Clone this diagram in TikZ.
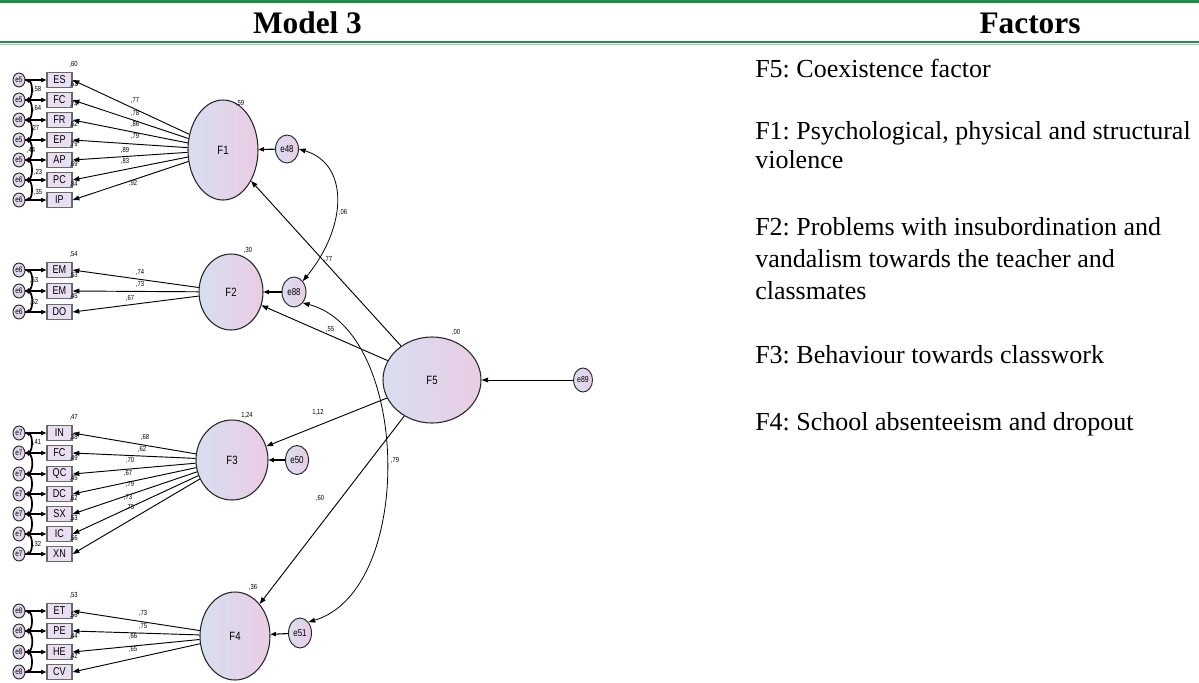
\documentclass[tikz,border=0pt]{standalone}
\usepackage{fontspec}
\setmainfont{Liberation Serif}
\newfontfamily\bodyfont{Liberation Serif}
\newfontfamily\amos{Liberation Sans}[FakeStretch=0.8]
\usetikzlibrary{shapes.geometric,arrows.meta,calc}
\definecolor{hdrgreen}{RGB}{38,140,72}
\definecolor{lgreen}{RGB}{160,205,170}
\definecolor{ellL}{RGB}{216,222,240}
\definecolor{ellR}{RGB}{234,204,228}
\definecolor{boxfill}{RGB}{234,222,242}
\definecolor{boxdraw}{RGB}{105,105,105}
\frenchspacing
\begin{document}
\begin{tikzpicture}[x=0.75pt,y=-0.75pt,
  sz/.style 2 args={minimum width=#1*0.75pt, minimum height=#2*0.75pt},
  lat/.style={ellipse, draw=black!85, line width=0.8pt, left color=ellL, right color=ellR, inner sep=0pt, font=\amos\fontsize{9}{10}\selectfont},
  errc/.style={ellipse, draw=black!85, line width=0.7pt, left color=ellL, right color=ellR, inner sep=0pt, font=\amos\fontsize{7.5}{8}\selectfont},
  serr/.style={ellipse, draw=black!85, line width=0.7pt, left color=ellL, right color=ellR, inner sep=0pt, sz={12}{14}, font=\amos\fontsize{6}{6}\selectfont},
  ind/.style={rectangle, draw=boxdraw, line width=1pt, fill=boxfill, inner sep=0pt, sz={25}{15}, font=\amos\fontsize{8.5}{9}\selectfont},
  arr/.style={-{Triangle[length=5pt,width=3.6pt]}, line width=0.7pt, black},
  sarr/.style={-{Triangle[length=4pt,width=3.2pt]}, line width=0.8pt, black},
  cov/.style={{Triangle[length=3pt,width=2.6pt]}-{Triangle[length=3pt,width=2.6pt]}, line width=1.3pt, black},
  bcov/.style={{Triangle[length=5pt,width=3.6pt]}-{Triangle[length=5pt,width=3.6pt]}, line width=0.6pt, black},
  num/.style={font=\amos\fontsize{5.5}{6}\selectfont, inner sep=0pt},
  txt/.style={font=\bodyfont\fontsize{19.5}{23}\selectfont, anchor=base west, inner sep=0pt},
  hdr/.style={font=\bodyfont\bfseries\fontsize{23.5}{27}\selectfont, anchor=base, inner sep=0pt}
]
\useasboundingbox (0,0) rectangle (1199,682);
\fill[white] (0,0) rectangle (1199,682);

% header rules
\draw[hdrgreen, line width=1.9pt] (0,1.5) -- (1199,1.5);
\draw[hdrgreen, line width=1.9pt] (0,42) -- (1199,42);
\draw[lgreen, line width=0.8pt] (0,44.8) -- (1199,44.8);
\node[hdr] (hm) at (307.5,33) {Model 3};
\node[hdr] (hf) at (1030,33) {Factors};

% right text
\node[txt] (t5) at (755,77) {F5: Coexistence factor};
\node[txt] (t1a) at (755,139) {F1: Psychological, physical and structural};
\node[txt] (t1b) at (755,168) {violence};
\node[txt] (t2a) at (755,235) {F2: Problems with insubordination and};
\node[txt] (t2b) at (755,267) {vandalism towards the teacher and};
\node[txt] (t2c) at (755,299) {classmates};
\node[txt] (t3) at (755,363) {F3: Behaviour towards classwork};
\node[txt] (t4) at (755,430) {F4: School absenteeism and dropout};

% latent factors
\node[lat, sz={70}{100}] (F1) at (223,150) {F1};
\node[lat, sz={64}{76}] (F2) at (231,292) {F2};
\node[lat, sz={72}{80}] (F3) at (232,460) {F3};
\node[lat, sz={70}{88}] (F4) at (235,636) {F4};
\node[lat, sz={98}{86}] (F5) at (432,380) {F5};

% disturbances
\node[errc, sz={23}{28}] (e48) at (287,149) {e48};
\node[errc, sz={24}{30}] (e88) at (294,292) {e88};
\node[errc, sz={23}{29}] (e50) at (297,460) {e50};
\node[errc, sz={23}{30}] (e51) at (300,633) {e51};
\node[errc, sz={19}{24}, font=\amos\fontsize{6.5}{7}\selectfont] (e89) at (583,380) {e89};

\draw[sarr] (e48) -- (F1);
\draw[sarr] (e88) -- (F2);
\draw[sarr] (e50) -- (F3);
\draw[sarr] (e51) -- (F4);
\draw[arr] (e89) -- (F5);

% structural paths
\draw[arr] (F5) -- (F1);
\draw[arr] (F5) -- (F2);
\draw[arr] (F5) -- (F3);
\draw[arr] (F5) -- (F4);

% covariances between disturbances
\draw[bcov] (e48.east) .. controls ($(e48.east)+(50,15)$) and ($(e88.north east)+(45,-55)$) .. (e88.north east);
\draw[bcov] (e88.south east) .. controls ($(e88.south east)+(108,28)$) and ($(e51.north east)+(107,-32)$) .. (e51.north east);

% structural labels
\node[num] (lr1) at (240,103) {,59};
\node[num] (lr2) at (248,250) {,30};
\node[num] (lr3) at (247,415) {1,24};
\node[num] (lr4) at (253,587) {,36};
\node[num] (lr5) at (456,332) {,00};
\node[num] (lp1) at (328,259) {,77};
\node[num] (lp2) at (330,329) {,55};
\node[num] (lp3) at (318,412) {1,12};
\node[num] (lp4) at (320,498) {,60};
\node[num] (lc1) at (343,212) {,06};
\node[num] (lc2) at (395,460) {,79};

% ---- F1 indicators
\foreach \yy/\nm/\er/\ld/\lx/\ly/\rr [count=\k] in {
  80/ES/e5/77/135/100/60,
  100/FC/e5/78/135/113/61,
  120/FR/e8/86/135/124/74,
  140/EP/e5/79/135/136/62,
  160/AP/e5/89/125/150/79,
  180/PC/e6/83/125/161/69,
  200/IP/e6/92/133/183/84}{
  \node[ind] (b1-\k) at (59.5,\yy) {\nm};
  \node[serr] (r1-\k) at (19,\yy) {\makebox[0pt]{\er}};
  \draw[sarr] (r1-\k) -- (b1-\k);
  \node[num] (q1-\k) at ($(b1-\k.north east)+(1,-7)$) {,\rr};
  \draw[arr] (F1) -- (b1-\k.east);
  \node[num] (l1-\k) at (\lx,\ly) {,\ld};
}
\foreach \a/\b in {1/2,2/3,3/4,4/5,5/6,6/7}{
  \draw[cov] (r1-\a.east) to[bend left=75] (r1-\b.east);
}
\node[num] (c1a) at (37,89) {,58};
\node[num] (c1b) at (37,108) {,64};
\node[num] (c1c) at (35,128) {,27};
\node[num] (c1d) at (31,150) {,44};
\node[num] (c1e) at (38,172) {,23};
\node[num] (c1f) at (38,192) {,35};

% ---- F2 indicators
\foreach \yy/\nm/\er/\ld/\lx/\ly/\rr [count=\k] in {
  270/EM/e6/74/140/272/54,
  291/EM/e6/73/140/284/53,
  312/DO/e6/67/130/298/45}{
  \node[ind] (b2-\k) at (59.5,\yy) {\nm};
  \node[serr] (r2-\k) at (19,\yy) {\makebox[0pt]{\er}};
  \draw[sarr] (r2-\k) -- (b2-\k);
  \node[num] (q2-\k) at ($(b2-\k.north east)+(1,-7)$) {,\rr};
  \draw[arr] (F2) -- (b2-\k.east);
  \node[num] (l2-\k) at (\lx,\ly) {,\ld};
}
\foreach \a/\b in {1/2,2/3}{
  \draw[cov] (r2-\a.east) to[bend left=75] (r2-\b.east);
}
\node[num] (c2a) at (34,280) {,53};
\node[num] (c2b) at (34,302) {,52};

% ---- F3 indicators
\foreach \yy/\nm/\er/\ld/\lx/\ly/\rr [count=\k] in {
  433/IN/e7/68/145/437/47,
  453/FC/e7/62/142/449/38,
  474/QC/e7/70/130/460/49,
  494/DC/e7/67/128/473/45,
  514/SX/e7/79/130/484/62,
  534/IC/e7/73/128/497/53,
  554/XN/e7/75/130/507/56}{
  \node[ind] (b3-\k) at (59.5,\yy) {\nm};
  \node[serr] (r3-\k) at (19,\yy) {\makebox[0pt]{\er}};
  \draw[sarr] (r3-\k) -- (b3-\k);
  \node[num] (q3-\k) at ($(b3-\k.north east)+(1,-7)$) {,\rr};
  \draw[arr] (F3) -- (b3-\k.east);
  \node[num] (l3-\k) at (\lx,\ly) {,\ld};
}
\foreach \a/\b in {1/2,2/3,3/4,4/5,5/6,6/7}{
  \draw[cov] (r3-\a.east) to[bend left=75] (r3-\b.east);
}
\node[num] (c3a) at (37,442) {,41};
\node[num] (c3b) at (37,544) {,32};

% ---- F4 indicators
\foreach \yy/\nm/\er/\ld/\lx/\ly/\rr [count=\k] in {
  611/ET/e8/73/143/613/53,
  631/PE/e8/75/143/626/56,
  652/HE/e8/66/133/636/44,
  672/CV/e8/65/133/649/42}{
  \node[ind] (b4-\k) at (59.5,\yy) {\nm};
  \node[serr] (r4-\k) at (19,\yy) {\makebox[0pt]{\er}};
  \draw[sarr] (r4-\k) -- (b4-\k);
  \node[num] (q4-\k) at ($(b4-\k.north east)+(1,-7)$) {,\rr};
  \draw[arr] (F4) -- (b4-\k.east);
  \node[num] (l4-\k) at (\lx,\ly) {,\ld};
}
\foreach \a/\b in {1/2,2/3,3/4}{
  \draw[cov] (r4-\a.east) to[bend left=75] (r4-\b.east);
}
\end{tikzpicture}
\end{document}
